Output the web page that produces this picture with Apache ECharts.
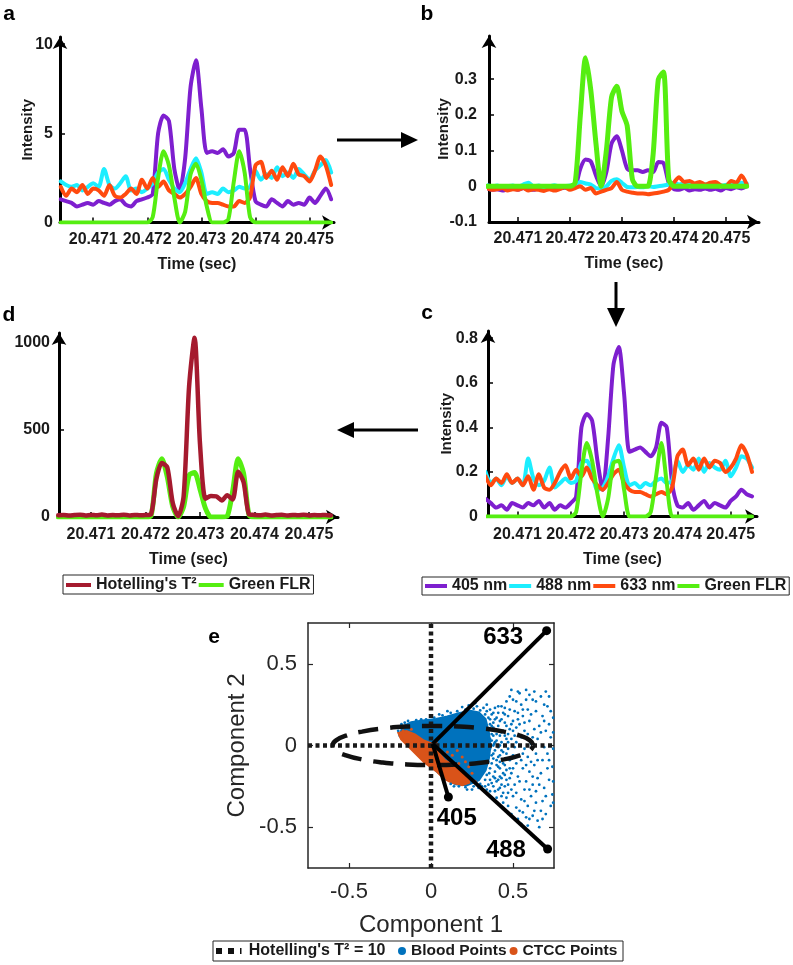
<!DOCTYPE html>
<html><head><meta charset="utf-8">
<script src="https://cdn.jsdelivr.net/npm/echarts@6/dist/echarts.min.js"></script>
<style>html,body{margin:0;padding:0;background:#fff}#c{width:793px;height:965px}</style>
</head><body><div id="c"></div>
<script>
// ---------- data ----------
const time = [20.4704,20.4705,20.4706,20.4707,20.4708,20.4709,20.4710,20.4711,20.4712,20.4713,
  20.4714,20.4715,20.4716,20.4717,20.4718,20.4719,20.4720,20.4721,20.4722,20.4723,
  20.4724,20.4725,20.4726,20.4727,20.4728,20.4729,20.4730,20.4731,20.4732,20.4733,
  20.4734,20.4735,20.4736,20.4737,20.4738,20.4739,20.4740,20.4741,20.4742,20.4743,
  20.4744,20.4745,20.4746,20.4747,20.4748,20.4749,20.4750,20.4751,20.4752,20.4753,20.4754];
const timeTicks = [20.471,20.472,20.473,20.474,20.475];

// panel a (raw intensity)
const a405 = [1.3,1.2,1.1,0.9,1.0,1.1,1.0,1.2,1.1,1.0, 1.2,1.3,1.0,0.9,1.2,1.3,1.4,1.6,5.0,6.0, 5.7,3.0,1.8,3.6,7.6,9.1,6.4,3.9,4.0,3.9, 4.1,3.7,3.9,5.2,5.2,3.0,1.2,1.0,0.9,1.3, 1.1,0.9,1.2,1.0,1.1,1.0,1.4,1.1,1.5,1.9, 1.3];
const a488 = [2.3,2.1,2.0,2.1,1.8,2.0,2.2,2.0,3.0,2.1, 1.9,2.2,2.6,1.8,1.9,1.7,1.9,2.2,2.8,3.0, 2.4,1.9,1.7,2.2,3.0,3.6,2.8,1.6,1.7,1.6, 1.9,1.7,1.8,2.0,1.9,2.0,2.9,2.4,2.7,2.5, 3.1,2.6,2.8,2.5,3.0,2.7,2.4,2.9,3.2,3.5, 2.8];
const a633 = [2.0,1.5,1.9,1.7,2.1,1.6,1.9,1.8,1.5,2.1, 1.5,1.4,1.6,1.9,1.6,2.4,1.9,2.5,2.0,2.3, 1.8,1.6,1.4,1.6,2.0,2.5,1.6,1.2,1.1,1.1, 1.0,0.9,0.9,1.2,1.1,1.4,3.2,3.4,2.5,2.9, 2.4,3.1,2.6,3.3,2.7,2.6,2.3,2.9,3.7,3.2, 2.1];
const aGreen = [0,0,0,0,0,0,0,0,0,0, 0,0,0,0,0,0,0,0.3,2.5,4.0, 3.2,1.4,0,0.6,2.7,3.3,2.4,0.9,0,0, 0,0.2,2.3,4.0,2.8,0.3,0,0,0,0, 0,0,0,0,0,0,0,0,0,0, 0];

// panel b
const b405 = [-0.005,-0.01,-0.008,-0.012,-0.008,-0.006,-0.01,-0.005,-0.008,-0.01, -0.006,-0.008,-0.005,-0.008,-0.006,-0.004,-0.005,-0.002,0.05,0.075, 0.07,0.03,0.0,0.04,0.12,0.14,0.10,0.05,0.045,0.045, 0.04,0.045,0.04,0.068,0.065,0.01,-0.008,-0.01,-0.005,-0.012, -0.008,-0.01,-0.006,-0.01,-0.007,-0.012,-0.005,-0.008,-0.003,-0.006, 0.0];
const b488 = [0.003,0.0,0.002,-0.002,0.0,0.002,-0.002,0.005,0.01,0.0, 0.002,-0.002,0.0,0.003,-0.001,0.001,0.002,0.003,0.012,0.008, 0.005,-0.005,-0.006,0.0,0.015,0.02,0.01,-0.002,-0.003,-0.002, -0.003,0.0,-0.002,0.0,0.002,0.005,0.01,0.005,0.008,0.004, 0.007,0.003,0.006,0.004,0.007,0.002,0.004,0.008,0.006,0.01, 0.008];
const b633 = [-0.005,-0.01,-0.008,-0.005,-0.012,-0.008,-0.01,-0.005,-0.012,-0.008, -0.01,-0.013,-0.008,-0.012,-0.008,-0.003,-0.01,-0.005,0.0,-0.01, -0.005,-0.02,-0.015,-0.01,-0.005,0.012,-0.01,-0.015,-0.018,-0.02, -0.02,-0.022,-0.02,-0.018,-0.015,-0.01,0.01,0.025,0.012,0.015, 0.008,0.012,0.005,0.01,0.012,0.003,0.0,0.015,0.01,0.03, 0.005];
const bGreen = [0,0,0,0,0,0,0,0,0,0, 0,0,0,0,0,0,0,0.01,0.2,0.36, 0.27,0.12,0,0.1,0.25,0.28,0.21,0.17,0.02,0, 0,0,0.09,0.30,0.32,0.02,0,0,0,0, 0,0,0,0,0,0,0,0,0,0, 0];

// panel c (normalised)
const c405 = [0.08,0.06,0.04,0.05,0.03,0.06,0.05,0.04,0.06,0.05, 0.07,0.04,0.06,0.03,0.05,0.04,0.06,0.09,0.40,0.46, 0.43,0.25,0.12,0.35,0.68,0.76,0.55,0.29,0.30,0.31, 0.29,0.27,0.31,0.42,0.40,0.15,0.05,0.04,0.06,0.03, 0.05,0.07,0.04,0.06,0.05,0.04,0.07,0.09,0.12,0.10, 0.09];
const c488 = [0.20,0.15,0.17,0.14,0.18,0.15,0.17,0.14,0.26,0.17, 0.14,0.16,0.22,0.13,0.15,0.17,0.15,0.16,0.24,0.25, 0.19,0.12,0.13,0.18,0.26,0.32,0.22,0.14,0.15,0.13, 0.15,0.14,0.16,0.17,0.15,0.16,0.25,0.20,0.23,0.21, 0.26,0.20,0.24,0.22,0.21,0.25,0.18,0.22,0.27,0.26, 0.22];
const c633 = [0.18,0.14,0.17,0.15,0.19,0.15,0.17,0.14,0.18,0.12, 0.19,0.13,0.12,0.15,0.20,0.23,0.17,0.21,0.18,0.22, 0.17,0.14,0.12,0.15,0.19,0.21,0.15,0.12,0.11,0.11, 0.10,0.09,0.10,0.11,0.10,0.13,0.27,0.30,0.23,0.26, 0.21,0.26,0.22,0.25,0.24,0.20,0.22,0.26,0.32,0.28, 0.20];
const cGreen = [0,0,0,0,0,0,0,0,0,0, 0,0,0,0,0,0,0,0.02,0.2,0.33, 0.25,0.1,0,0.08,0.24,0.25,0.12,0,0,0, 0,0.02,0.18,0.33,0.15,0,0,0,0,0, 0,0,0,0,0,0,0,0,0,0, 0];

// panel d
const dT2 = [10,12,8,11,13,9,12,10,14,9, 11,10,13,9,12,10,11,15,220,310, 285,80,5,120,750,1030,420,105,120,118, 95,125,100,260,200,15,12,10,14,9, 11,13,8,12,10,13,9,11,10,12, 9];
const dGreen = [0,0,0,0,0,0,0,0,0,0, 0,0,0,0,0,0,0,5,250,335, 230,60,0,60,240,255,160,50,0,0, 0,5,150,335,250,10,0,0,0,0, 0,0,0,0,0,0,0,0,0,0, 0];

const aYTicks = [0,5,10];
const bYTicks = [-0.1,0,0.1,0.2,0.3];
const cYTicks = [0,0.2,0.4,0.6,0.8];
const dYTicks = [0,500,1000];

// panel e (PCA)
const eTicks = [-0.5,0,0.5];
const bloodCore = [[-0.19,0.06],[-0.17,0.115],[-0.12,0.14],[-0.05,0.15],[0.03,0.16],[0.10,0.175],[0.17,0.195],[0.24,0.21],[0.29,0.2],[0.33,0.16],[0.35,0.08],[0.36,0.0],[0.35,-0.08],[0.33,-0.15],[0.29,-0.21],[0.22,-0.24],[0.15,-0.235],[0.08,-0.195],[0.0,-0.125],[-0.08,-0.045],[-0.15,0.02]];
const ctccCore = [[-0.195,0.075],[-0.15,0.085],[-0.1,0.065],[-0.05,0.03],[0.0,0.01],[0.04,-0.04],[0.08,-0.09],[0.13,-0.12],[0.18,-0.15],[0.22,-0.19],[0.23,-0.225],[0.19,-0.24],[0.13,-0.225],[0.08,-0.2],[0.04,-0.16],[0.0,-0.13],[-0.04,-0.1],[-0.09,-0.05],[-0.14,0.0],[-0.18,0.04]];
const bloodPoints = [
 [-0.20,0.09],[-0.18,0.13],[-0.14,0.15],[-0.09,0.155],[-0.03,0.16],[0.02,0.17],[0.07,0.185],[0.12,0.2],[0.16,0.21],[0.21,0.22],[0.26,0.225],[0.30,0.215],[0.28,0.24],[0.23,0.245],[0.33,0.19],[0.36,0.16],[0.37,0.12],[0.38,0.06],[0.385,0.01],[0.38,-0.05],[0.37,-0.11],[0.355,-0.17],[0.33,-0.21],[0.30,-0.235],[0.26,-0.25],[0.21,-0.255],[0.17,-0.25],[0.12,-0.235],[0.25,-0.27],[0.29,-0.26],
 [-0.16,0.14],[-0.06,0.16],[0.05,0.19],[0.1,0.21],[0.19,0.235],[0.32,0.23],[0.31,-0.25],[0.22,-0.27],[0.14,-0.25],[0.08,-0.21],[0.27,0.26],[0.34,0.25],
 [0.36,0.22],[0.37,0.19],[0.39,0.23],[0.40,0.17],[0.38,0.14],[0.41,0.12],[0.39,0.09],[0.42,0.06],[0.40,0.03],[0.41,-0.01],[0.39,-0.03],[0.42,-0.06],[0.40,-0.09],[0.41,-0.13],[0.39,-0.16],[0.42,-0.19],[0.40,-0.22],[0.38,-0.25],[0.36,-0.28],[0.34,-0.27],[0.41,-0.27],[0.43,-0.31],[0.40,-0.32],
 [0.34,0.21],[0.35,0.17],[0.36,0.13],[0.35,0.10],[0.37,0.07],[0.36,0.04],[0.38,0.00],[0.36,-0.02],[0.37,-0.06],[0.35,-0.10],[0.36,-0.14],[0.34,-0.18],[0.36,-0.21],[0.35,-0.24],[0.33,-0.25],
 [0.38,0.20],[0.39,0.16],[0.38,0.11],[0.40,0.07],[0.39,0.02],[0.38,-0.08],[0.40,-0.12],[0.39,-0.20],[0.37,-0.23],[0.39,-0.28],
 [0.41,0.24],[0.42,0.15],[0.41,0.09],[0.43,0.08],[0.42,0.00],[0.43,-0.03],[0.41,-0.07],[0.44,-0.11],[0.42,-0.14],[0.41,-0.21],[0.43,-0.20],[0.42,-0.26],[0.44,-0.29],
 [0.43,0.24],[0.44,0.20],[0.45,0.14],[0.44,0.09],[0.46,0.04],[0.45,0.00],[0.44,-0.04],[0.46,-0.08],[0.45,-0.12],[0.44,-0.17],[0.46,-0.21],[0.45,-0.25],[0.47,-0.29],[0.44,-0.35],[0.46,0.27],[0.47,0.18],[0.48,0.10],[0.47,-0.02],[0.48,-0.14],[0.47,-0.37],
 [0.43,0.16],[0.43,0.02],[0.42,-0.10],[0.43,-0.24],[0.37,0.03],[0.38,-0.19],[0.41,0.20],[0.45,0.19],[0.47,0.07],[0.46,-0.15],
 [0.45,0.23],[0.46,0.12],[0.45,0.06],[0.47,0.02],[0.46,-0.05],[0.48,-0.09],[0.45,-0.18],[0.47,-0.24],[0.46,-0.32],[0.48,0.22],[0.49,0.13],[0.48,-0.20],[0.49,-0.27],[0.48,0.30],[0.49,-0.08],[0.50,0.09],[0.50,-0.14],
 [0.49,0.34],[0.50,0.28],[0.51,0.21],[0.50,0.15],[0.52,0.11],[0.49,0.04],[0.51,-0.01],[0.50,-0.06],[0.52,-0.11],[0.49,-0.17],[0.51,-0.24],[0.50,-0.31],[0.52,-0.38],[0.49,-0.42],[0.51,0.06],[0.53,-0.19],
 [0.54,0.32],[0.55,0.25],[0.56,0.18],[0.54,0.13],[0.55,0.05],[0.57,-0.02],[0.55,-0.09],[0.56,-0.14],[0.54,-0.22],[0.57,-0.27],[0.55,-0.33],[0.56,-0.41],[0.55,-0.48],[0.57,0.09],[0.53,0.20],
 [0.52,0.27],[0.53,0.16],[0.52,0.02],[0.53,-0.06],[0.52,-0.29],[0.54,-0.40],[0.53,0.33],[0.56,0.22],[0.57,0.14],[0.56,-0.05],[0.58,-0.12],[0.57,-0.34],[0.58,-0.44],
 [0.58,0.34],[0.59,0.22],[0.60,0.15],[0.59,0.07],[0.61,0.01],[0.59,-0.07],[0.60,-0.16],[0.58,-0.22],[0.61,-0.31],[0.59,-0.37],[0.60,-0.45],[0.62,0.28],[0.58,0.28],
 [0.60,0.31],[0.61,0.19],[0.62,0.05],[0.61,-0.10],[0.62,-0.19],[0.60,-0.27],[0.62,-0.43],[0.59,-0.49],[0.53,-0.45],
 [0.63,0.33],[0.64,0.21],[0.63,0.10],[0.65,0.04],[0.64,-0.05],[0.63,-0.12],[0.65,-0.20],[0.64,-0.28],[0.63,-0.40],[0.65,-0.46],[0.62,-0.24],[0.64,0.27],[0.66,0.12],[0.65,-0.09],[0.66,-0.24],[0.67,-0.40],[0.64,-0.35],
 [0.67,0.30],[0.68,0.18],[0.67,0.08],[0.69,-0.01],[0.68,-0.09],[0.67,-0.17],[0.69,-0.26],[0.68,-0.34],[0.66,-0.50],[0.70,-0.42],[0.69,0.25],[0.70,0.09],[0.71,-0.14],[0.70,-0.31],[0.69,0.15],[0.68,-0.45],
 [0.71,0.24],[0.72,0.13],[0.73,0.05],[0.71,-0.05],[0.74,-0.13],[0.72,-0.21],[0.74,-0.30],[0.73,-0.37],[0.745,0.17],[0.745,-0.02],[0.745,-0.22],[0.70,0.33],[0.73,0.21],[0.72,-0.09],[0.745,0.08],[0.745,-0.35],[0.72,0.30]
];
const ctccPoints = [[0.16,-0.03],[0.19,-0.07],[0.21,-0.1],[0.23,-0.13],[0.13,-0.06],[0.1,-0.04],[0.17,-0.11],[0.25,-0.17],[0.24,-0.2],[0.06,-0.03],[-0.12,0.1],[-0.17,0.09],[0.03,0.02],[0.27,-0.22],[0.2,-0.2]];
const ellipseT2 = [[0.624,0],[0.603,0.031],[0.542,0.06],[0.445,0.085],[0.318,0.104],[0.170,0.116],[0.012,0.12],[-0.146,0.116],[-0.294,0.104],[-0.421,0.085],[-0.518,0.06],[-0.579,0.031],[-0.600,0],[-0.579,-0.031],[-0.518,-0.06],[-0.421,-0.085],[-0.294,-0.104],[-0.146,-0.116],[0.012,-0.12],[0.170,-0.116],[0.318,-0.104],[0.445,-0.085],[0.542,-0.06],[0.603,-0.031],[0.624,0]];
const zeroV = [[0,-0.75],[0,0.75]];
const zeroH = [[-0.75,0],[0.75,0]];
const loadOrigin = [0.01,0.01];
const load633 = [0.705,0.703];
const load488 = [0.711,-0.634];
const load405 = [0.106,-0.315];
const loadLabels = [{name:'633', value:[0.44,0.66]},{name:'488', value:[0.457,-0.645]},{name:'405', value:[0.157,-0.447]}];

// ---------- styles ----------
const FONT = 'Liberation Sans, Arial, sans-serif';
const C405 = '#7e1fcf', C488 = '#1ceeff', C633 = '#ff4a0f', CGRN = '#55ee11', CT2 = '#a51a2e';
const BLUE = '#0072BD', ORANGE = '#D95319';
const txt = (size, bold) => ({color:'#1a1a1a', fontSize:size, fontWeight: bold ? 'bold' : 'normal', fontFamily:FONT});

function timeAxis(gi, min, max, margin, nameGap, namePad) {
  return {type:'value', gridIndex:gi, min, max, position:'bottom',
    axisLine:{show:true, onZero:false, symbol:['none','arrow'], symbolSize:[11,12], lineStyle:{color:'#000', width:3}},
    axisTick:{show:true, inside:true, length:5, customValues:timeTicks, lineStyle:{color:'#000', width:1.5}},
    axisLabel:Object.assign({show:true, customValues:timeTicks, margin, formatter:v=>v.toFixed(3)}, txt(16,true)),
    splitLine:{show:false},
    name:'Time (sec)', nameLocation:'middle', nameGap, nameMoveOverlap:false,
    nameTextStyle:Object.assign({padding: namePad || 0}, txt(16,true))};
}
function valAxis(gi, min, max, ticks, name, nameGap, margin) {
  return {type:'value', gridIndex:gi, min, max,
    axisLine:{show:true, onZero:false, symbol:['none','arrow'], symbolSize:[11,12], lineStyle:{color:'#000', width:3}},
    axisTick:{show:true, inside:true, length:5, customValues:ticks, lineStyle:{color:'#000', width:1.5}},
    axisLabel:Object.assign({show:true, customValues:ticks, margin, formatter:v=>String(v)}, txt(16,true)),
    splitLine:{show:false},
    name, nameLocation:'middle', nameGap, nameMoveOverlap:false, nameTextStyle:txt(15,true)};
}
function eAxis(dim, pos, showLabel) {
  const o = {type:'value', gridIndex:4, min:-0.75, max:0.75, position:pos,
    axisLine:{show:true, onZero:false, lineStyle:{color:'#262626', width:1.5}},
    axisTick:{show:true, inside:true, length:5, customValues:eTicks, lineStyle:{color:'#262626', width:1.2}},
    axisLabel:Object.assign({show:showLabel, customValues:eTicks, margin: dim==='x'?13:11, formatter:v=>String(v)}, txt(22,false), {color:'#262626'}),
    splitLine:{show:false}};
  if (showLabel) {
    o.name = dim==='x' ? 'Component 1' : 'Component 2';
    o.nameLocation = 'middle';
    o.nameGap = dim==='x' ? 45 : 59;
    o.nameMoveOverlap = false;
    o.nameTextStyle = Object.assign(txt(24,false), {color:'#262626'});
  }
  return o;
}
function ln(name, arr, color, ai, width) {
  return {type:'line', name, xAxisIndex:ai, yAxisIndex:ai, data: arr.map((v,i)=>[time[i], v]),
    showSymbol:false, symbol:'none', smooth:0.25, clip:true,
    lineStyle:{color, width:width||4, join:'round', cap:'round'}, itemStyle:{color}, emphasis:{disabled:true}};
}
function poly(name, pts, color) {
  return {type:'custom', name, xAxisIndex:4, yAxisIndex:4, data:pts, silent:true, clip:true,
    renderItem:(params, api) => params.dataIndex === 0 ? {type:'polygon', shape:{points: pts.map(p => api.coord(p))}, style:{fill:color, stroke:color, lineWidth:3}} : null};
}
function pline(name, pts, style) {
  return {type:'line', name, xAxisIndex:4, yAxisIndex:4, data:pts, showSymbol:false, symbol:'none', silent:true,
    lineStyle:style, itemStyle:{color:style.color}, emphasis:{disabled:true}};
}
function loading(vec) {
  return {type:'line', name:'loading', xAxisIndex:4, yAxisIndex:4, silent:true,
    data:[{value:loadOrigin, symbol:'none'}, {value:vec, symbol:'circle', symbolSize:9}],
    showSymbol:true, lineStyle:{color:'#000', width:4}, itemStyle:{color:'#000'}, emphasis:{disabled:true}};
}

const chart = echarts.init(document.getElementById('c'), null, {renderer:'canvas'});
const legendBase = {orient:'horizontal', textStyle:txt(16,true), borderColor:'#262626', borderWidth:1, backgroundColor:'#fff', selectedMode:false, icon:'rect', itemHeight:4};

chart.setOption({
  animation:false,
  backgroundColor:'#fff',
  grid:[
    {left:60, top:37, width:274, height:185.5, outerBoundsMode:'none'},
    {left:489, top:36, width:270, height:186, outerBoundsMode:'none'},
    {left:488, top:331, width:269, height:185.5, outerBoundsMode:'none'},
    {left:59, top:333, width:279, height:184, outerBoundsMode:'none'},
    {left:308, top:623, width:246, height:245, outerBoundsMode:'none'}
  ],
  xAxis:[
    timeAxis(0, 20.470386, 20.475452, 9, 34),
    timeAxis(1, 20.470442, 20.475637, 9, 34),
    timeAxis(2, 20.470447, 20.475493, 10, 35),
    timeAxis(3, 20.470413, 20.475532, 10, 35, [0,20,0,0]),
    eAxis('x','bottom',true),
    eAxis('x','top',false)
  ],
  yAxis:[
    valAxis(0, 0, 10.4, aYTicks, 'Intensity', 25, 7),
    valAxis(1, -0.1, 0.421, bYTicks, 'Intensity', 38, 12),
    valAxis(2, 0, 0.832, cYTicks, 'Intensity', 34, 10),
    valAxis(3, 0, 1057, dYTicks, '', 30, 9),
    eAxis('y','left',true),
    eAxis('y','right',false)
  ],
  legend:[
    Object.assign({}, legendBase, {left:63, top:575, padding:[2,3,1,3], itemGap:2, itemWidth:25,
      data:["Hotelling's T²", 'Green FLR']}),
    Object.assign({}, legendBase, {left:422, top:577, padding:[1,3,1,3], itemGap:2, itemWidth:22,
      data:['405 nm','488 nm','633 nm','Green FLR']}),
    {left:216, top:943, padding:0, itemGap:0, itemWidth:30, itemHeight:6, selectedMode:false, textStyle:txt(16,true),
      data:[{name:"Hotelling's T² = 10", icon:'path://M0,0h4v4h-4zM8,0h4v4h-4zM16,0h1v4h-1z'}]},
    {left:398, top:943, padding:0, itemGap:3, itemWidth:8, itemHeight:8, icon:'circle', selectedMode:false, textStyle:txt(15.5,true),
      data:['Blood Points','CTCC Points']}
  ],
  graphic:[
    {type:'text', x:9, y:14, style:{text:'a', font:'bold 21px '+FONT, fill:'#000', align:'center', verticalAlign:'middle'}},
    {type:'text', x:427, y:14, style:{text:'b', font:'bold 21px '+FONT, fill:'#000', align:'center', verticalAlign:'middle'}},
    {type:'text', x:427, y:313, style:{text:'c', font:'bold 21px '+FONT, fill:'#000', align:'center', verticalAlign:'middle'}},
    {type:'text', x:9, y:315, style:{text:'d', font:'bold 21px '+FONT, fill:'#000', align:'center', verticalAlign:'middle'}},
    {type:'text', x:214, y:637, style:{text:'e', font:'bold 21px '+FONT, fill:'#000', align:'center', verticalAlign:'middle'}},
    {type:'line', shape:{x1:337, y1:140, x2:403, y2:140}, style:{stroke:'#000', lineWidth:3}},
    {type:'polygon', shape:{points:[[418,140],[401,132],[401,148]]}, style:{fill:'#000'}},
    {type:'line', shape:{x1:616, y1:282, x2:616, y2:310}, style:{stroke:'#000', lineWidth:3}},
    {type:'polygon', shape:{points:[[616,327],[607,308],[625,308]]}, style:{fill:'#000'}},
    {type:'line', shape:{x1:418, y1:430, x2:352, y2:430}, style:{stroke:'#000', lineWidth:3}},
    {type:'polygon', shape:{points:[[337,430],[354,422],[354,438]]}, style:{fill:'#000'}},
    {type:'rect', z:-1, shape:{x:213, y:941, width:410, height:20}, style:{fill:'#fff', stroke:'#262626', lineWidth:1}}
  ],
  series:[
    ln('405 nm', a405, C405, 0), ln('488 nm', a488, C488, 0), ln('633 nm', a633, C633, 0), ln('Green FLR', aGreen, CGRN, 0),
    ln('405 nm', b405, C405, 1), ln('488 nm', b488, C488, 1), ln('633 nm', b633, C633, 1), ln('Green FLR', bGreen, CGRN, 1, 5),
    ln('405 nm', c405, C405, 2), ln('488 nm', c488, C488, 2), ln('633 nm', c633, C633, 2), ln('Green FLR', cGreen, CGRN, 2),
    ln('Green FLR', dGreen, CGRN, 3, 5), ln("Hotelling's T²", dT2, CT2, 3, 4.5),
    poly('bloodCore', bloodCore, BLUE),
    {type:'scatter', name:'Blood Points', xAxisIndex:4, yAxisIndex:4, data:bloodPoints, symbolSize:2.8, itemStyle:{color:BLUE, opacity:1}, silent:true},
    poly('ctccCore', ctccCore, ORANGE),
    {type:'scatter', name:'CTCC Points', xAxisIndex:4, yAxisIndex:4, data:ctccPoints, symbolSize:3, itemStyle:{color:ORANGE, opacity:1}, silent:true},
    pline('zeroV', zeroV, {color:'#1a1a1a', width:4.5, type:[4,3.5], cap:'butt'}),
    pline('zeroH', zeroH, {color:'#1a1a1a', width:4.5, type:[4,3.5], cap:'butt'}),
    Object.assign(pline("Hotelling's T² = 10", ellipseT2, {color:'#111', width:4.5, type:[20,12], cap:'butt'}), {smooth:0.5, itemStyle:{color:'#111'}}),
    loading(load633), loading(load488), loading(load405),
    {type:'scatter', name:'labels', xAxisIndex:4, yAxisIndex:4, data:loadLabels, symbolSize:0, itemStyle:{color:'#000', opacity:1}, silent:true,
      label:{show:true, position:'inside', formatter:p=>p.name, color:'#000', opacity:1, textBorderWidth:0, fontSize:24, fontWeight:'bold', fontFamily:FONT}}
  ]
});
</script></body></html>
